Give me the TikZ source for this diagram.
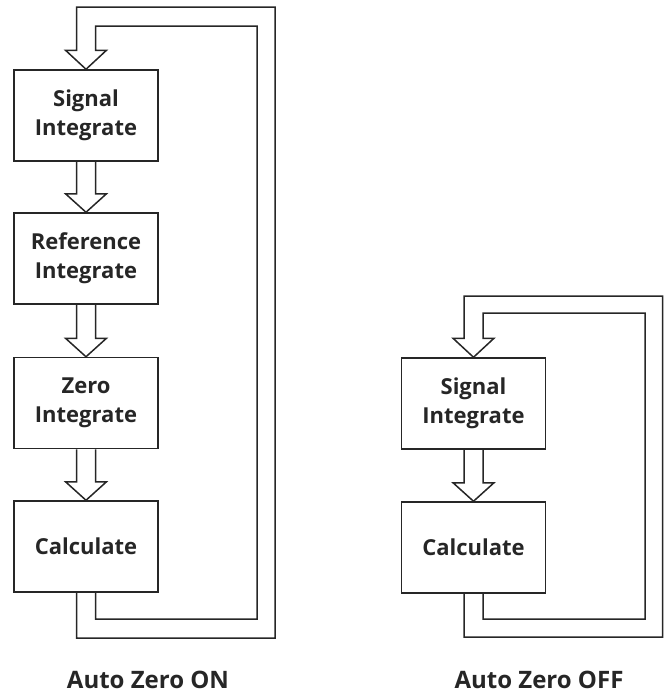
\documentclass[tikz,border=0pt]{standalone}
\usepackage{fontspec}
\setmainfont{Open Sans}
\usetikzlibrary{calc}
\begin{document}
\begin{tikzpicture}[x=1pt,y=-1pt,
  line width=1.5pt, draw=black!85,
  box/.style={draw, line width=1.5pt, minimum width=144pt, minimum height=91pt, inner sep=0pt,
    align=center, font=\fontsize{22}{29}\selectfont\bfseries, text=black!85},
  captext/.style={font=\fontsize{24}{28}\selectfont\bfseries, text=black!85, anchor=base}]
\useasboundingbox (0,0) rectangle (664,694);
% left column
\node[box] (A) at (86,115.5) {Signal\\Integrate};
\node[box] (B) at (86,258.5) {Reference\\Integrate};
\node[box] (C) at (86,403) {Zero\\Integrate};
\node[box] (D) at (86,546.5) {Calculate};
% right column
\node[box] (E) at (473.5,403.5) {Signal\\Integrate};
\node[box] (F) at (473.5,547.5) {Calculate};
\node[captext] (L1) at (148,688) {Auto Zero ON};
\node[captext] (L2) at (539,688) {Auto Zero OFF};
\newcommand{\harrow}[2]{%
  \draw[line join=miter] ($(#1.south)+(-9.5,0)$) -- ($(#2.north)+(-9.5,-18.5)$) -- ($(#2.north)+(-20.5,-18.5)$)
    -- (#2.north) -- ($(#2.north)+(20.5,-18.5)$) -- ($(#2.north)+(9.5,-18.5)$) -- ($(#1.south)+(9.5,0)$);}
\harrow{A}{B}
\harrow{B}{C}
\harrow{C}{D}
\harrow{E}{F}
% loops
\coordinate (LoB) at (275,638);
\coordinate (LoT) at (275,7);
\coordinate (LiB) at (257,619);
\coordinate (LiT) at (257,26);
\draw[line join=miter] ($(D.south)+(-9.5,0)$) |- (LoB) -- (LoT) -| ($(A.north)+(-9.5,-19)$)
  -- ($(A.north)+(-20.5,-19)$) -- (A.north) -- ($(A.north)+(20.5,-19)$) -- ($(A.north)+(9.5,-19)$)
  |- (LiT) -- (LiB) -| ($(D.south)+(9.5,0)$);
\coordinate (RoB) at (662.5,637);
\coordinate (RoT) at (662.5,296);
\coordinate (RiB) at (645,619);
\coordinate (RiT) at (645,313);
\draw[line join=miter] ($(F.south)+(-9.5,0)$) |- (RoB) -- (RoT) -| ($(E.north)+(-9.5,-19)$)
  -- ($(E.north)+(-20.5,-19)$) -- (E.north) -- ($(E.north)+(20.5,-19)$) -- ($(E.north)+(9.5,-19)$)
  |- (RiT) -- (RiB) -| ($(F.south)+(9.5,0)$);
\end{tikzpicture}
\end{document}
